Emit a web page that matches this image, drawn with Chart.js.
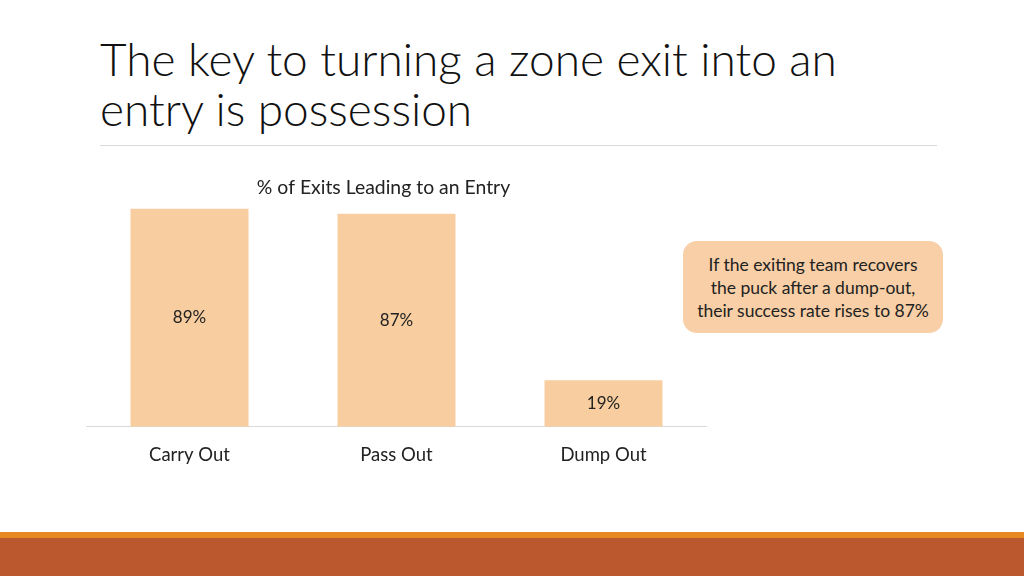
<!DOCTYPE html>
<html>
<head>
<meta charset="utf-8">
<script src="https://cdn.jsdelivr.net/npm/chart.js@4"></script>
<style>
  html, body { margin: 0; padding: 0; }
  body { width: 1024px; height: 576px; position: relative; overflow: hidden; background: #fff; font-family: Lato, "Open Sans", sans-serif; }
  #title { position: absolute; left: 100px; top: 34px; font-size: 46px; font-weight: 300; line-height: 50px; color: #111; }
  #rule { position: absolute; left: 100px; top: 145px; width: 837px; height: 1px; background: #d9d9d9; }
  #chartbox { position: absolute; left: 60px; top: 165px; width: 647px; height: 323px; }
  #callout { position: absolute; left: 683px; top: 241px; width: 260px; height: 92px; border-radius: 14px; background: #f8cfa6;
             display: flex; align-items: center; justify-content: center; text-align: center; font-size: 17.5px; line-height: 23px; color: #222; }
  #band1 { position: absolute; left: 0; top: 532px; width: 1024px; height: 6px; background: #e8891f; }
  #band2 { position: absolute; left: 0; top: 538px; width: 1024px; height: 38px; background: #bb582e; }
</style>
</head>
<body>
<div id="title">The key to turning a zone exit into an<br>entry is possession</div>
<div id="rule"></div>
<div id="chartbox"><canvas id="mychart"></canvas></div>
<div id="callout">If the exiting team recovers<br>the puck after a dump-out,<br>their success rate rises to 87%</div>
<div id="band1"></div>
<div id="band2"></div>
<script>
var exitTypes = ['Carry Out', 'Pass Out', 'Dump Out']
var entryPct = [89, 87, 19]
var chartTitle = '% of Exits Leading to an Entry'

// draws the "89%" style labels in the middle of each bar
var valueLabels = {
    id: 'valueLabels',
    afterDatasetsDraw: function (chart) {
        var ctx = chart.ctx
        var meta = chart.getDatasetMeta(0)
        ctx.save()
        ctx.font = '17px Lato'
        ctx.fillStyle = '#222'
        ctx.textAlign = 'center'
        ctx.textBaseline = 'middle'
        meta.data.forEach(function (bar, i) {
            var mid = (bar.y + bar.base) / 2
            ctx.fillText(entryPct[i] + '%', bar.x, mid)
        })
        ctx.restore()
    }
}

var myChart = document.getElementById('mychart').getContext('2d')

var chart = new Chart(myChart, {
    type: 'bar',
    data: {
        labels: exitTypes,
        datasets: [{
            label: chartTitle,
            data: entryPct,
            backgroundColor: '#f8cd9f',
            categoryPercentage: 1,
            barPercentage: 0.57,
        }],
    },
    options: {
        responsive: true,
        maintainAspectRatio: false,
        animation: false,
        layout: { padding: { left: 0, right: 0, top: 0, bottom: 5 } },
        plugins: {
            legend: { display: false },
            tooltip: { enabled: false },
            title: {
                display: true,
                text: chartTitle,
                color: '#222',
                font: { family: 'Lato', size: 19.4, weight: 'normal' },
                padding: { top: 11, bottom: 7 },
            },
        },
        scales: {
            x: {
                grid: { display: false, drawTicks: false },
                border: { display: true, color: '#d9d9d9', width: 1 },
                ticks: { color: '#222', font: { family: 'Lato', size: 18.5 }, padding: 17 },
            },
            y: {
                display: true,
                min: 0,
                max: 90,
                grid: { display: false },
                border: { display: false },
                ticks: { display: false },
                afterFit: function (scale) { scale.width = 26 },
            },
        },
    },
    plugins: [valueLabels],
});
</script>
</body>
</html>
